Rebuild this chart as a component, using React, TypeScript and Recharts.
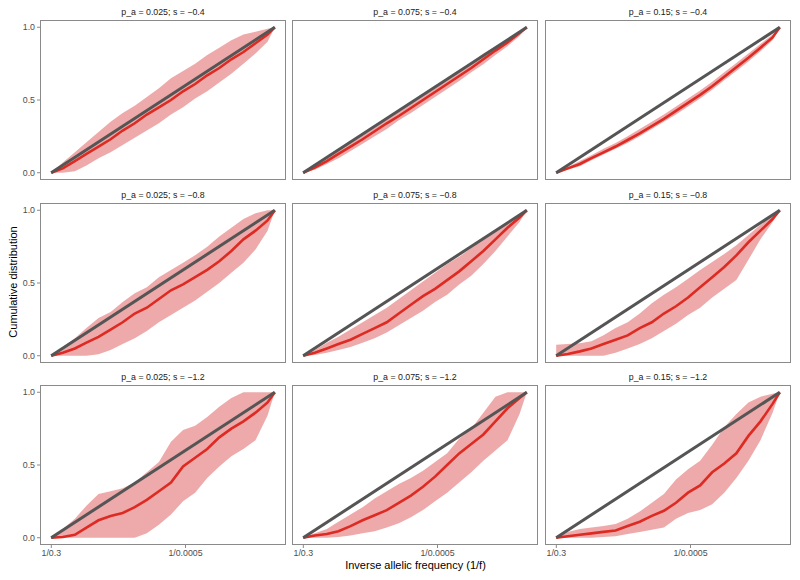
import { ComposedChart, Area, Line, XAxis, YAxis, ReferenceLine } from 'recharts';

// x positions in log10(1/f), from 1/0.3 up to the largest inverse frequency
const X = [0.52, 0.76, 1.01, 1.25, 1.5, 1.75, 2.0, 2.25, 2.5, 2.75, 3.0, 3.25, 3.5, 3.75, 4.0, 4.25, 4.5, 4.75, 5.0, 5.15];
const X_TICKS = [0.523, 3.301];
const X_TICK_LABELS = ['1/0.3', '1/0.0005'];
const Y_TICKS = [0, 0.5, 1];

const P_LABELS = ['0.025', '0.075', '0.15'];
const S_LABELS = ['\u22120.4', '\u22120.8', '\u22121.2'];

// s = -0.4
const MED_025_S04 = [0, .03, .08, .13, .18, .23, .29, .34, .40, .45, .50, .56, .61, .67, .72, .78, .83, .89, .95, 1];
const HI_025_S04 = [0, .07, .14, .21, .28, .35, .41, .46, .52, .58, .65, .70, .75, .81, .86, .91, .95, .97, .99, 1];
const LO_025_S04 = [0, 0, .01, .05, .10, .14, .19, .24, .29, .34, .40, .45, .51, .56, .62, .68, .75, .82, .90, 1];

const MED_075_S04 = [0, .035, .08, .13, .18, .23, .285, .34, .39, .445, .50, .555, .61, .665, .72, .78, .84, .895, .96, 1];
const HI_075_S04 = [0, .05, .10, .155, .21, .26, .31, .37, .42, .475, .53, .585, .64, .70, .76, .82, .87, .92, .97, 1];
const LO_075_S04 = [0, .02, .06, .10, .15, .20, .25, .30, .36, .41, .465, .52, .575, .63, .69, .745, .81, .87, .94, 1];

const MED_15_S04 = [0, .03, .06, .10, .14, .18, .225, .27, .32, .37, .425, .48, .535, .595, .66, .725, .79, .86, .93, 1];
const HI_15_S04 = [0, .04, .08, .12, .165, .205, .25, .30, .35, .40, .455, .51, .565, .625, .69, .755, .82, .885, .95, 1];
const LO_15_S04 = [0, .02, .045, .085, .125, .165, .205, .25, .30, .35, .40, .455, .51, .57, .635, .70, .765, .835, .91, 1];

// s = -0.8
const MED_025_S08 = [0, .02, .05, .09, .13, .18, .23, .29, .33, .39, .45, .49, .54, .59, .65, .72, .80, .86, .93, 1];
const HI_025_S08 = [0, .06, .12, .19, .26, .30, .37, .43, .47, .54, .59, .64, .69, .75, .82, .88, .94, .98, 1, 1];
const LO_025_S08 = [0, 0, 0, 0, .01, .04, .08, .12, .17, .23, .28, .33, .38, .44, .50, .57, .64, .73, .86, 1];

const MED_075_S08 = [0, .02, .05, .08, .11, .15, .19, .23, .29, .35, .41, .46, .52, .58, .65, .72, .80, .88, .95, 1];
const HI_075_S08 = [0, .04, .09, .13, .18, .23, .28, .33, .39, .45, .51, .57, .63, .68, .74, .80, .86, .92, .97, 1];
const LO_075_S08 = [0, .005, .02, .04, .06, .09, .12, .16, .21, .26, .31, .37, .42, .49, .55, .63, .72, .82, .92, 1];

const MED_15_S08 = [0, .012, .03, .05, .08, .11, .14, .19, .23, .29, .34, .40, .47, .54, .61, .69, .78, .86, .94, 1];
const HI_15_S08 = [.075, .08, .085, .10, .14, .19, .23, .29, .36, .42, .47, .53, .59, .645, .70, .76, .83, .90, .96, 1];
const LO_15_S08 = [0, 0, 0, 0, 0, .02, .05, .08, .12, .17, .22, .28, .33, .40, .46, .52, .66, .80, .92, 1];

// s = -1.2
const MED_025_S12 = [0, .005, .02, .07, .12, .15, .17, .21, .26, .32, .38, .49, .55, .61, .69, .75, .80, .86, .93, 1];
const HI_025_S12 = [0, .06, .13, .22, .30, .32, .34, .38, .45, .52, .66, .74, .77, .83, .90, .96, 1, 1, 1, 1];
const LO_025_S12 = [0, 0, 0, 0, 0, 0, 0, 0, .03, .09, .16, .25, .31, .41, .49, .56, .61, .67, .84, 1];

const MED_075_S12 = [0, .015, .025, .045, .08, .12, .155, .19, .24, .29, .35, .42, .50, .58, .645, .71, .80, .89, .96, 1];
const HI_075_S12 = [0, .03, .06, .11, .16, .21, .27, .32, .37, .41, .46, .52, .58, .68, .75, .86, .97, 1, 1, 1];
const LO_075_S12 = [0, 0, 0, .005, .015, .03, .045, .07, .10, .14, .19, .25, .31, .38, .45, .53, .60, .67, .85, 1];

const MED_15_S12 = [0, .01, .02, .03, .04, .05, .08, .11, .15, .185, .24, .31, .36, .45, .51, .58, .70, .80, .92, 1];
const HI_15_S12 = [0, .04, .06, .07, .08, .095, .13, .18, .24, .30, .40, .47, .53, .64, .76, .85, .93, .97, .99, 1];
const LO_15_S12 = [0, 0, 0, 0, .005, .01, .025, .04, .055, .07, .13, .17, .19, .23, .31, .41, .53, .67, .86, 1];

// rows = s, cols = p_a
const PANELS = [
  [[MED_025_S04, LO_025_S04, HI_025_S04], [MED_075_S04, LO_075_S04, HI_075_S04], [MED_15_S04, LO_15_S04, HI_15_S04]],
  [[MED_025_S08, LO_025_S08, HI_025_S08], [MED_075_S08, LO_075_S08, HI_075_S08], [MED_15_S08, LO_15_S08, HI_15_S08]],
  [[MED_025_S12, LO_025_S12, HI_025_S12], [MED_075_S12, LO_075_S12, HI_075_S12], [MED_15_S12, LO_15_S12, HI_15_S12]],
];

const COL_LEFT = [40, 292, 545];
const ROW_TOP = [20, 203, 385];
const PW = 246;
const PH = 160;
const AXIS_W = 40;
const AXIS_H = 22;

const xMin = X[0];
const xMax = X[X.length - 1];
const xPad = (xMax - xMin) * 0.05;

const FONT = '"Liberation Sans", Arial, Helvetica, sans-serif';
const RED = '#dd2a22';
const PINK = '#eeaaaa';
const GREY = '#555555';
const BORDER = '#8a8a8a';
const TICK_TEXT = '#4d4d4d';

function Panel({ row, col }: { row: number; col: number }) {
  const [med, lo, hi] = PANELS[row][col];
  const data = X.map((x, i) => ({ x, med: med[i], band: [lo[i], hi[i]] }));
  const showY = col === 0;
  const showX = row === 2;
  const w = PW + (showY ? AXIS_W : 0);
  const h = PH + (showX ? AXIS_H : 0);
  return (
    <div style={{ position: 'absolute', left: COL_LEFT[col] - (showY ? AXIS_W : 0), top: ROW_TOP[row], width: w, height: h }}>
      <ComposedChart width={w} height={h} data={data} margin={{ top: 0, right: 0, bottom: 0, left: 0 }}>
        <XAxis
          dataKey="x"
          type="number"
          domain={[xMin - xPad, xMax + xPad]}
          allowDataOverflow
          ticks={X_TICKS}
          tickFormatter={(v: number) => X_TICK_LABELS[X_TICKS.indexOf(v)] ?? ''}
          hide={!showX}
          height={AXIS_H}
          axisLine={false}
          tickSize={3}
          tickLine={{ stroke: BORDER }}
          tick={{ fill: TICK_TEXT, fontSize: 8.8, fontFamily: FONT }}
          interval={0}
        />
        <YAxis
          type="number"
          domain={[-0.05, 1.05]}
          allowDataOverflow
          ticks={Y_TICKS}
          tickFormatter={(v: number) => v.toFixed(1)}
          hide={!showY}
          width={AXIS_W}
          axisLine={false}
          tickSize={3}
          tickLine={{ stroke: BORDER }}
          tick={{ fill: TICK_TEXT, fontSize: 8.8, fontFamily: FONT }}
          interval={0}
        />
        <Area dataKey="band" type="linear" stroke="none" fill={PINK} fillOpacity={1} isAnimationActive={false} />
        <Line dataKey="med" type="linear" stroke={RED} strokeWidth={2.6} dot={false} isAnimationActive={false} />
        <ReferenceLine
          segment={[{ x: xMin, y: 0 }, { x: xMax, y: 1 }]}
          stroke={GREY}
          strokeWidth={3}
        />
      </ComposedChart>
      <div
        style={{
          position: 'absolute',
          left: showY ? AXIS_W : 0,
          top: 0,
          width: PW,
          height: PH,
          boxSizing: 'border-box',
          border: `1px solid ${BORDER}`,
          pointerEvents: 'none',
        }}
      />
    </div>
  );
}

export default function App() {
  const panels = [];
  for (let r = 0; r < 3; r++) {
    for (let c = 0; c < 3; c++) {
      panels.push(<Panel key={`p${r}${c}`} row={r} col={c} />);
      panels.push(
        <div
          key={`t${r}${c}`}
          style={{
            position: 'absolute',
            left: COL_LEFT[c],
            top: ROW_TOP[r] - 15,
            width: PW,
            height: 14,
            lineHeight: '14px',
            textAlign: 'center',
            fontSize: 8.8,
            color: '#1a1a1a',
          }}
        >
          {`p_a = ${P_LABELS[c]}; s = ${S_LABELS[r]}`}
        </div>
      );
    }
  }
  return (
    <div style={{ position: 'absolute', left: 0, top: 0, width: 800, height: 580, background: '#fff', fontFamily: FONT }}>
      {panels}
      <div
        style={{
          position: 'absolute',
          left: COL_LEFT[0],
          top: 558,
          width: COL_LEFT[2] + PW - COL_LEFT[0],
          textAlign: 'center',
          fontSize: 11,
          lineHeight: '14px',
          color: '#000',
        }}
      >
        Inverse allelic frequency (1/f)
      </div>
      <div
        style={{
          position: 'absolute',
          left: 13 - 150,
          top: 282 - 7,
          width: 300,
          height: 14,
          lineHeight: '14px',
          textAlign: 'center',
          fontSize: 11,
          color: '#000',
          transform: 'rotate(-90deg)',
        }}
      >
        Cumulative distribution
      </div>
    </div>
  );
}
